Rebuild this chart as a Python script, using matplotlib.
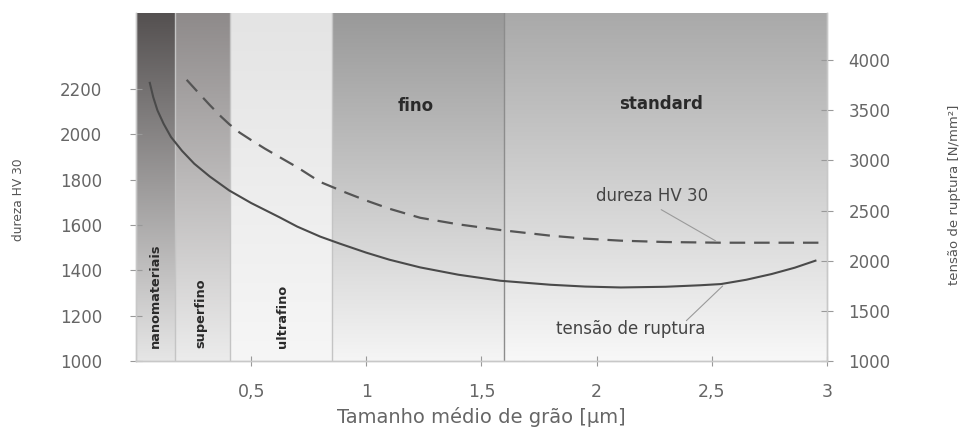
import numpy as np
import matplotlib.pyplot as plt
from matplotlib.colors import LinearSegmentedColormap

plt.rcParams['font.family'] = 'DejaVu Sans'

# faixas de tamanho de grão (limites em µm) e cores do degradê (topo -> base)
faixa_nome = ['nanomateriais', 'superfino', 'ultrafino', 'fino', 'standard']
faixa_lim = [0.0, 0.17, 0.41, 0.85, 1.6, 3.0]
faixa_topo = ['#545050', '#8e8a8a', '#e4e4e4', '#999999', '#a9a9a9']
faixa_base = ['#e6e6e6', '#ececec', '#f6f6f6', '#f5f5f5', '#f8f8f8']

# dureza HV 30 (eixo esquerdo) - curva tracejada
dureza_x = [0.22, 0.27, 0.32, 0.37, 0.405, 0.45, 0.5, 0.56, 0.623, 0.7,
            0.8, 0.914, 1.0, 1.1, 1.234, 1.4, 1.582, 1.8, 1.95, 2.105,
            2.3, 2.54, 2.963]
dureza_hv = [2241, 2185, 2130, 2078, 2045, 2008, 1975, 1937, 1900, 1855,
             1790, 1742, 1708, 1672, 1632, 1603, 1578, 1553, 1540, 1531,
             1525, 1522, 1522]

# tensão de ruptura (eixo direito) - curva contínua
tensao_x = [0.06, 0.075, 0.093, 0.12, 0.152, 0.2, 0.253, 0.32, 0.405, 0.5,
            0.623, 0.7, 0.8, 0.885, 1.0, 1.1, 1.234, 1.4, 1.582, 1.8,
            1.95, 2.105, 2.3, 2.45, 2.54, 2.65, 2.76, 2.86, 2.95]
tensao_n = [3773, 3630, 3500, 3365, 3233, 3095, 2967, 2840, 2700, 2575,
            2433, 2340, 2240, 2170, 2080, 2010, 1933, 1860, 1800, 1760,
            1742, 1733, 1740, 1755, 1767, 1810, 1867, 1930, 2000]

x_ticks = [0.5, 1, 1.5, 2, 2.5, 3]
x_labels = ['0,5', '1', '1,5', '2', '2,5', '3']
hv_ticks = [1000, 1200, 1400, 1600, 1800, 2000, 2200]
n_ticks = [1000, 1500, 2000, 2500, 3000, 3500, 4000]

fig = plt.figure(figsize=(9.61, 4.32), dpi=100)
ax = fig.add_axes([0.1415, 0.1644, 0.719, 0.8056])
ymin, ymax = 1000, 2536

# fundo em degradê vertical para cada faixa (linha 0 = topo)
grad = np.linspace(0, 1, 256).reshape(-1, 1)
for i in range(len(faixa_nome)):
    cmap = LinearSegmentedColormap.from_list('f%d' % i, [faixa_topo[i], faixa_base[i]])
    ax.imshow(grad, cmap=cmap, aspect='auto', origin='upper', zorder=0,
              extent=[faixa_lim[i], faixa_lim[i + 1], ymin, ymax])
for b in faixa_lim[1:-1]:
    ax.axvline(b, color='#8c8c8c' if b == 1.6 else '#c4c4c4', lw=1, zorder=1)

ax.set_xlim(0, 3)
ax.set_ylim(ymin, ymax)

ax.plot(dureza_x, dureza_hv, color='#555555', lw=1.6, dashes=(7, 4), zorder=3)

# rótulos das faixas
for nome, xc in zip(faixa_nome[:3], [0.086, 0.282, 0.637]):
    ax.text(xc, 1057, nome, rotation=90, ha='center', va='bottom',
            fontsize=9.3, fontweight='bold', color='#2a2a2a', zorder=4)
ax.text(1.216, 2126, 'fino', ha='center', va='center', fontsize=12,
        fontweight='bold', color='#2a2a2a')
ax.text(2.28, 2135, 'standard', ha='center', va='center', fontsize=12,
        fontweight='bold', color='#2a2a2a')

ax.text(2.24, 1728, 'dureza HV 30', ha='center', va='center', fontsize=12,
        color='#444444')
ax.annotate('', xy=(2.527, 1524), xytext=(2.27, 1674),
            arrowprops=dict(arrowstyle='-', color='#9a9a9a', lw=0.8))
ax.text(2.15, 1141, 'tensão de ruptura', ha='center', va='center',
        fontsize=12, color='#444444')

ax.set_xticks(x_ticks)
ax.set_xticklabels(x_labels)
ax.set_yticks(hv_ticks)
ax.tick_params(axis='x', direction='inout', length=7, color='#999999',
               labelcolor='#666666', labelsize=12.5, pad=12)
ax.tick_params(axis='y', direction='inout', length=9, color='#999999',
               labelcolor='#666666', labelsize=12, pad=20)
ax.set_xlabel('Tamanho médio de grão [µm]', fontsize=14, color='#666666',
              labelpad=5)
ax.set_ylabel('dureza HV 30', fontsize=8.8, color='#555555')
ax.yaxis.set_label_coords(-0.16, 0.463)

# eixo direito: tensão de ruptura
ax2 = ax.twinx()
ax2.set_ylim(1000, 4470)
ax2.plot(tensao_x, tensao_n, color='#4a4a4a', lw=1.5, zorder=3)
ax2.annotate('', xy=(2.556, 1767), xytext=(2.381, 1383),
             arrowprops=dict(arrowstyle='-', color='#9a9a9a', lw=0.8))
ax2.set_yticks(n_ticks)
ax2.tick_params(axis='y', direction='inout', length=9, color='#999999',
                labelcolor='#666666', labelsize=12, pad=11)
ax2.set_ylabel('tensão de ruptura [N/mm²]', fontsize=9.5, color='#555555')
ax2.yaxis.set_label_coords(1.175, 0.477)

for a in (ax, ax2):
    a.spines['top'].set_visible(False)
    for s in ('left', 'right', 'bottom'):
        a.spines[s].set_color('#c8c8c8')
        a.spines[s].set_linewidth(1)

fig.savefig('out.png', dpi=100, facecolor='white')
